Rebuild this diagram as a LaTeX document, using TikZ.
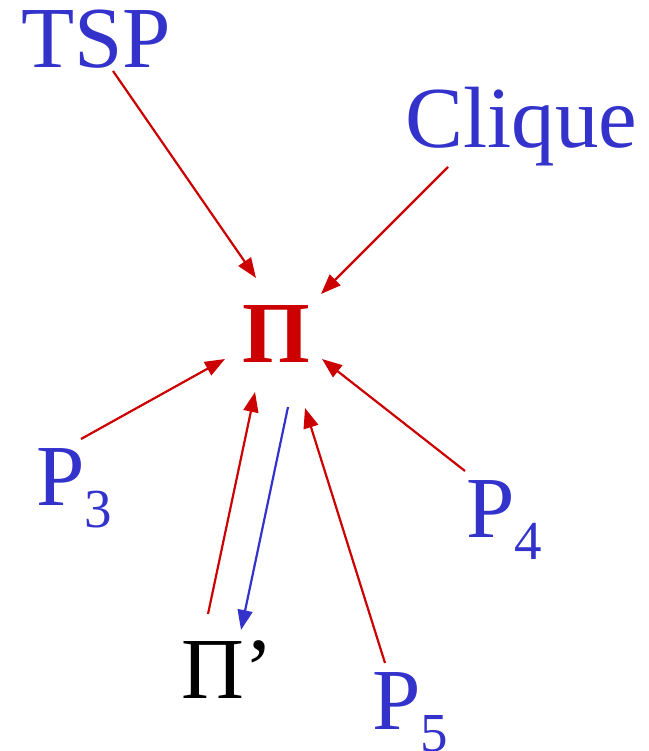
\documentclass[tikz,border=0pt]{standalone}
\usepackage{fontspec}
\setmainfont{Liberation Serif}
\usetikzlibrary{arrows.meta}
\definecolor{tblue}{RGB}{51,51,204}
\definecolor{tred}{RGB}{204,0,0}
\newcommand{\bigtxt}{\fontsize{87}{90}\selectfont}
\newcommand{\subtxt}[1]{\raisebox{-22pt}{\fontsize{55}{58}\selectfont #1}}
\begin{document}
\begin{tikzpicture}[x=1pt,y=-1pt,
  lbl/.style={inner sep=0pt, anchor=base west, font=\bigtxt},
  bluelbl/.style={lbl, text=tblue},
  redarr/.style={draw=tred, line width=2.2pt, -{Triangle[length=20pt,width=15pt]}, fill=tred},
  bluearr/.style={draw=tblue, line width=2.2pt, -{Triangle[length=20pt,width=15pt]}, fill=tblue}]
\useasboundingbox (0,0) rectangle (648,751);
\node[bluelbl] (tsp) at (21,68) {TSP};
\node[bluelbl] (clique) at (405,148) {Clique};
\node[lbl, text=tred, font=\bigtxt\bfseries] (pi) at (242,362) {Π};
\node[bluelbl] (p3) at (36,505) {P\subtxt{3}};
\node[bluelbl] (p4) at (466,537) {P\subtxt{4}};
\node[bluelbl] (p5) at (372,729) {P\subtxt{5}};
\node[lbl, text=black] (pip) at (181,698) {Π’};
\draw[redarr] ([shift={(92,3)}]tsp.base west) -- ([shift={(14,-84)}]pi.base west);
\draw[redarr] ([shift={(43,19)}]clique.base west) -- ([shift={(79,-68)}]pi.base west);
\draw[redarr] ([shift={(45,-66)}]p3.base west) -- ([shift={(-17,-3)}]pi.base west);
\draw[redarr] ([shift={(-1,-66)}]p4.base west) -- ([shift={(80,-3)}]pi.base west);
\draw[redarr] ([shift={(13,-66)}]p5.base west) -- ([shift={(63,46)}]pi.base west);
\draw[redarr] ([shift={(27,-84)}]pip.base west) -- ([shift={(13,30)}]pi.base west);
\draw[bluearr] ([shift={(46,45)}]pi.base west) -- ([shift={(60,-68)}]pip.base west);
\end{tikzpicture}
\end{document}
